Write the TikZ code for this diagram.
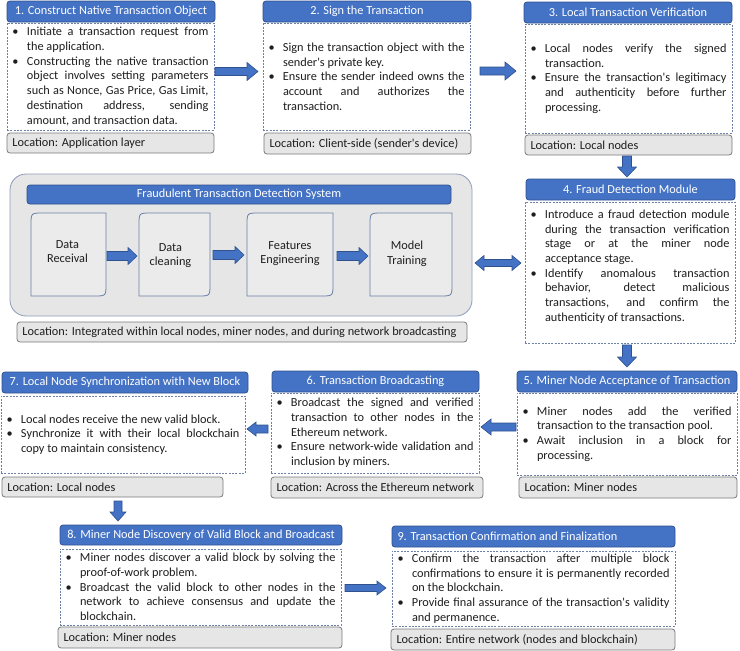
\documentclass[tikz,border=0pt]{standalone}
\usepackage{fontspec}
\setmainfont{Carlito}[Ligatures=TeXOff]
\usetikzlibrary{calc}

\definecolor{hblue}{HTML}{4472C4}
\definecolor{hborder}{HTML}{2F528F}
\definecolor{dashc}{HTML}{6F80A8}
\definecolor{locfill}{HTML}{E7E6E6}
\definecolor{locdraw}{HTML}{7A7A7A}
\definecolor{fdsfill}{HTML}{E6E6E6}
\definecolor{fdsdraw}{HTML}{8C9BB8}
\definecolor{infill}{HTML}{EBEBEB}
\definecolor{indraw}{HTML}{6A80A8}
\definecolor{txt}{HTML}{1E1E1E}

\newcommand{\fsz}{\fontsize{12.3}{14.7}\selectfont}
\newcommand{\sps}{\spaceskip=0.226em plus 1em minus 0.06em\relax}
% bullet lines: A = first justified, B = middle justified, C = last natural, D = single natural
\newcommand{\lnA}[1]{\sps\makebox[14.5pt][l]{\textbullet}\hbox to \bxlw pt{\sps #1}}
\newcommand{\lnB}[1]{\sps\hspace*{14.5pt}\hbox to \bxlw pt{\sps #1}}
\newcommand{\lnC}[1]{\sps\hspace*{14.5pt}#1}
\newcommand{\lnD}[1]{\sps\makebox[14.5pt][l]{\textbullet}#1}
\newcommand{\locx}[1]{\makebox[\bxtw pt][l]{#1}}
\newcommand{\mybox}[7]{%
  \pgfmathsetmacro\bxw{#5-#3}%
  \pgfmathsetmacro\bxh{#6-#4}%
  \pgfmathsetmacro\bxtw{#5-#3-11}%
  \pgfmathsetmacro\bxlw{#5-#3-11-14.5}%
  \node[#1, minimum width=\bxw pt, minimum height=\bxh pt, anchor=north west] (#2) at (#3,#4) {#7};}
\newcommand{\rdshape}[1]{%
  \filldraw[inbox] (#1.south west) -- ($(#1.north west)+(0,12)$) .. controls (#1.north west) .. ($(#1.north west)+(12,0)$)
    -- (#1.north east) -- ($(#1.south east)+(0,-12)$) .. controls (#1.south east) .. ($(#1.south east)+(-12,0)$) -- cycle;}
\newcommand{\barrow}[5]{%
  \coordinate (ba-s) at (#1); \coordinate (ba-e) at (#2);
  \coordinate (ba-b) at ($(ba-e)!#5pt!(ba-s)$);
  \filldraw[barrowst] ($(ba-s)!#3pt!90:(ba-e)$) -- ($(ba-b)!#3pt!90:(ba-e)$) -- ($(ba-b)!#4pt!90:(ba-e)$)
    -- (ba-e) -- ($(ba-b)!#4pt!-90:(ba-e)$) -- ($(ba-b)!#3pt!-90:(ba-e)$) -- ($(ba-s)!#3pt!-90:(ba-e)$) -- cycle;}
\newcommand{\dbarrow}[5]{%
  \coordinate (ba-s) at (#1); \coordinate (ba-e) at (#2);
  \coordinate (ba-b) at ($(ba-e)!#5pt!(ba-s)$);
  \coordinate (ba-c) at ($(ba-s)!#5pt!(ba-e)$);
  \filldraw[barrowst] (ba-s) -- ($(ba-c)!#4pt!90:(ba-e)$) -- ($(ba-c)!#3pt!90:(ba-e)$) -- ($(ba-b)!#3pt!90:(ba-e)$) -- ($(ba-b)!#4pt!90:(ba-e)$)
    -- (ba-e) -- ($(ba-b)!#4pt!-90:(ba-e)$) -- ($(ba-b)!#3pt!-90:(ba-e)$) -- ($(ba-c)!#3pt!-90:(ba-e)$) -- ($(ba-c)!#4pt!-90:(ba-e)$) -- cycle;}

\tikzset{
  head/.style={draw=hborder, fill=hblue, line width=0.8pt, rounded corners=3pt, text=white, inner sep=0pt, outer sep=0pt, font=\fsz},
  bodybox/.style={draw=dashc, dash pattern=on 2pt off 1.3pt, line width=0.75pt, fill=white, text=txt, text width=\bxtw pt, align=left, inner xsep=5.5pt, inner ysep=0pt, outer sep=0pt, font=\fsz},
  locbox/.style={draw=locdraw, fill=locfill, line width=0.8pt, rounded corners=3pt, text=txt, inner sep=0pt, outer sep=0pt, font=\fsz},
  fdsbox/.style={draw=fdsdraw, fill=fdsfill, line width=0.8pt, rounded corners=16pt, inner sep=0pt, outer sep=0pt},
  inspot/.style={inner sep=0pt, outer sep=0pt},
  inbox/.style={draw=indraw, fill=infill, line width=0.8pt},
  intext/.style={text=txt, align=center, font=\fsz, inner sep=0pt},
  barrowst/.style={fill=hblue, draw=hborder, line width=0.6pt},
}

\begin{document}
\begin{tikzpicture}[x=1pt,y=-1pt]
\useasboundingbox (0,0) rectangle (740,651);

% Stage 1
\mybox{head}{h1}{7}{1}{215}{22}{1. Construct Native Transaction Object}
\mybox{bodybox}{b1}{7}{23}{214}{130}{\lnA{Initiate a transaction request from}\\
  \lnC{the application.}\\
  \lnA{Constructing the native transaction}\\
  \lnB{object involves setting parameters}\\
  \lnB{such as Nonce, Gas Price, Gas Limit,}\\
  \lnB{destination address, sending}\\
  \lnC{amount, and transaction data.}}
\mybox{locbox}{l1}{7}{133}{214}{153}{\locx{Location: Application layer}}

% Stage 2
\mybox{head}{h2}{263}{1}{471}{22}{2. Sign the Transaction}
\mybox{bodybox}{b2}{263}{23}{470}{130}{\lnA{Sign the transaction object with the}\\
  \lnC{sender's private key.}\\
  \lnA{Ensure the sender indeed owns the}\\
  \lnB{account and authorizes the}\\
  \lnC{transaction.}}
\mybox{locbox}{l2}{264}{133}{471}{154}{\locx{Location: Client-side (sender's device)}}

% Stage 3
\mybox{head}{h3}{524}{2}{732}{23}{3. Local Transaction Verification}
\mybox{bodybox}{b3}{525}{24}{732}{133}{\lnA{Local nodes verify the signed}\\
  \lnC{transaction.}\\
  \lnA{Ensure the transaction's legitimacy}\\
  \lnB{and authenticity before further}\\
  \lnC{processing.}}
\mybox{locbox}{l3}{525}{135}{732}{155}{\locx{Location: Local nodes}}

% Stage 4
\mybox{head}{h4}{526}{179}{735}{200}{4. Fraud Detection Module}
\mybox{bodybox}{b4}{525}{202}{735}{343}{\lnA{Introduce a fraud detection module}\\
  \lnB{during the transaction verification}\\
  \lnB{stage or at the miner node}\\
  \lnC{acceptance stage.}\\
  \lnA{Identify anomalous transaction}\\
  \lnB{behavior, detect malicious}\\
  \lnB{transactions, and confirm the}\\
  \lnC{authenticity of transactions.}\par\vspace{12pt}}

% Stage 5
\mybox{head}{h5}{517}{371}{737}{392}{5. Miner Node Acceptance of Transaction}
\mybox{bodybox}{b5}{517}{393}{737}{475}{\lnA{Miner nodes add the verified}\\
  \lnC{transaction to the transaction pool.}\\
  \lnA{Await inclusion in a block for}\\
  \lnC{processing.}}
\mybox{locbox}{l5}{519}{477}{737}{498}{\locx{Location: Miner nodes}}

% Stage 6
\mybox{head}{h6}{272}{371}{479}{392}{6. Transaction Broadcasting}
\mybox{bodybox}{b6}{271}{393}{479}{473}{\lnA{Broadcast the signed and verified}\\
  \lnB{transaction to other nodes in the}\\
  \lnC{Ethereum network.}\\
  \lnA{Ensure network-wide validation and}\\
  \lnC{inclusion by miners.}}
\mybox{locbox}{l6}{271}{477}{483}{498}{\locx{Location: Across the Ethereum network}}

% Stage 7
\mybox{head}{h7}{2}{372}{248}{393}{7. Local Node Synchronization with New Block}
\mybox{bodybox}{b7}{1}{396}{245}{473}{\lnD{Local nodes receive the new valid block.}\\
  \lnA{Synchronize it with their local blockchain}\\
  \lnC{copy to maintain consistency.}}
\mybox{locbox}{l7}{2}{477}{223}{497}{\locx{Location: Local nodes}}

% Stage 8
\mybox{head}{h8}{60}{525}{342}{545}{8. Miner Node Discovery of Valid Block and Broadcast}
\mybox{bodybox}{b8}{60}{549}{341}{625}{\lnA{Miner nodes discover a valid block by solving the}\\
  \lnC{proof-of-work problem.}\\
  \lnA{Broadcast the valid block to other nodes in the}\\
  \lnB{network to achieve consensus and update the}\\
  \lnC{blockchain.}}
\mybox{locbox}{l8}{58}{627}{342}{648}{\locx{Location: Miner nodes}}

% Stage 9
\mybox{head}{h9}{392}{526}{675}{547}{\locx{9. Transaction Confirmation and Finalization}}
\mybox{bodybox}{b9}{392}{551}{675}{626}{\lnA{Confirm the transaction after multiple block}\\
  \lnB{confirmations to ensure it is permanently recorded}\\
  \lnC{on the blockchain.}\\
  \lnA{Provide final assurance of the transaction's validity}\\
  \lnC{and permanence.}}
\mybox{locbox}{l9}{391}{629}{675}{650}{\locx{Location: Entire network (nodes and blockchain)}}

% Fraudulent transaction detection system
\mybox{fdsbox}{fds}{10}{174}{472}{316}{}
\mybox{head}{fdst}{27}{185}{451}{204}{Fraudulent Transaction Detection System}
\mybox{inspot}{dr}{31}{213}{106}{296}{}
\rdshape{dr}
\node[intext] at ($(dr)+(-1,-3)$) {Data\\Receival};
\mybox{inspot}{dc}{139}{213}{210}{296}{}
\rdshape{dc}
\node[intext] at ($(dc)+(-4,1)$) {Data\\cleaning};
\mybox{inspot}{fe}{247}{213}{333}{296}{}
\rdshape{fe}
\node[intext] at ($(fe)+(0,-1)$) {Features\\Engineering};
\mybox{inspot}{mt}{370}{213}{452}{296}{}
\rdshape{mt}
\node[intext] at ($(mt)+(-4,-1)$) {Model\\Training};
\mybox{locbox}{lf}{17}{322}{467}{342}{\locx{Location: Integrated within local nodes, miner nodes, and during network broadcasting}}

% Arrows
\barrow{$(dr.east)+(1,1.5)$}{$(dc.west)+(-2,1.5)$}{4.5}{8.5}{9}
\barrow{$(dc.east)+(3,0.5)$}{$(fe.west)+(-3,0.5)$}{4.5}{8.5}{9}
\barrow{$(fe.east)+(4,1.5)$}{$(mt.west)+(-2,1.5)$}{4.5}{8.5}{9}
\barrow{$(b1.east)+(1,-5)$}{$(b2.west)+(-5,-5)$}{4}{9}{11}
\barrow{$(b2.east)+(10,-5.5)$}{$(b3.west)+(-9,-7.5)$}{4}{9}{11}
\barrow{$(l3.south)+(-1.5,1)$}{$(h4.north)+(-3.5,-2)$}{4.5}{9.5}{10}
\barrow{$(b4.south)+(-3,2)$}{$(h5.north)+(0,-4)$}{4.5}{9.5}{10}
\barrow{$(b5.west)+(-1,-7)$}{$(b6.east)+(2,-6)$}{4}{8}{10}
\barrow{$(b6.west)+(-3,-4)$}{$(b7.east)+(2,-5.5)$}{4}{7}{9}
\barrow{$(l7.south)+(5.5,4)$}{$(h8.north west)+(58,-4)$}{4}{8}{9}
\barrow{$(b8.east)+(4,1)$}{$(b9.west)+(-6,-0.5)$}{3.5}{7}{9}
\dbarrow{$(fds.east)+(3,18)$}{$(b4.west)+(-4,-9.5)$}{3.5}{7.5}{9}
\end{tikzpicture}
\end{document}
